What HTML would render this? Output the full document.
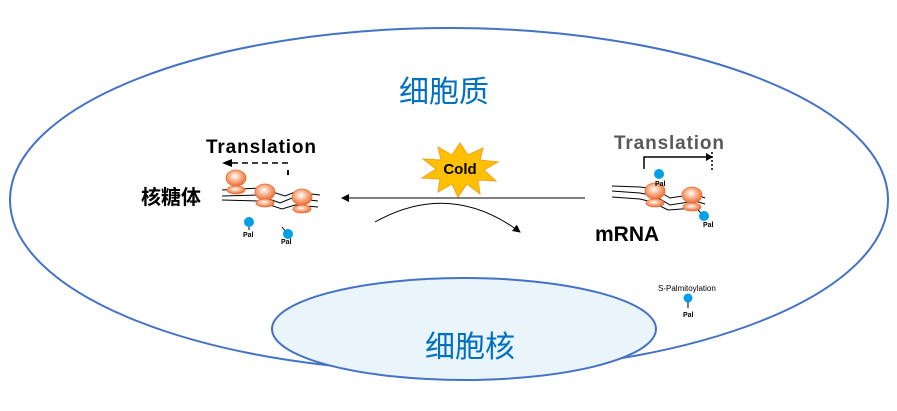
<!DOCTYPE html>
<html><head><meta charset="utf-8"><style>
body{margin:0;background:#fff;width:897px;height:406px;overflow:hidden}
text{font-family:"Liberation Sans","Noto Sans CJK SC",sans-serif}
</style></head><body>
<svg width="897" height="406" viewBox="0 0 897 406" xmlns="http://www.w3.org/2000/svg">
<defs>
<radialGradient id="rb" cx="0.45" cy="0.4" r="0.6">
<stop offset="0" stop-color="#fff"/><stop offset="0.5" stop-color="#f8b08a"/><stop offset="1" stop-color="#ec6d34"/>
</radialGradient>
<marker id="ah" markerWidth="8" markerHeight="8" refX="7" refY="4" orient="auto"><path d="M0,0 L8,4 L0,8 z" fill="#000"/></marker>
</defs>
<ellipse cx="449" cy="200" rx="439" ry="172" fill="#fff" stroke="#4472c4" stroke-width="2"/>
<ellipse cx="464" cy="329" rx="192" ry="51" fill="#eaf4fb" stroke="#4472c4" stroke-width="2"/>
<text x="444" y="102" font-size="30" fill="#0070c0" text-anchor="middle">细胞质</text>
<text x="470" y="357" font-size="30" fill="#0070c0" text-anchor="middle">细胞核</text>

<polygon points="460,143 468,155 483,148 480,160 498,162 484,170 496,181 478,180 480,194 467,184 458,197 452,184 438,192 440,179 422,178 436,169 423,159 441,160 438,147 452,155" fill="#ffc000" stroke="#f4a020" stroke-width="1"/>
<text x="460" y="174" font-size="15" font-weight="bold" text-anchor="middle" fill="#000">Cold</text>

<line x1="585" y1="198" x2="342" y2="198" stroke="#000" stroke-width="1" marker-end="url(#ah)"/>
<path d="M375,222 Q450,180 520,232" fill="none" stroke="#000" stroke-width="1" marker-end="url(#ah)"/>

<text x="206" y="153" font-size="19" font-weight="bold" fill="#000" textLength="110">Translation</text>
<line x1="288" y1="163" x2="228" y2="163" stroke="#000" stroke-width="1.5" stroke-dasharray="6,4"/>
<path d="M232,159 L222,163 L232,167 z" fill="#000"/>
<line x1="288" y1="170" x2="288" y2="175" stroke="#000" stroke-width="2"/>
<text x="141" y="204" font-size="20" font-weight="bold" fill="#000" font-family="Noto Sans CJK SC,sans-serif">核糖体</text>
<path d="M222,190 L260,188 L285,196 L295,192 L320,195" fill="none" stroke="#000" stroke-width="1"/>
<path d="M222,196 L258,195 L280,203 L292,198 L318,201" fill="none" stroke="#000" stroke-width="1"/>
<path d="M222,200 L258,201 L282,209 L295,205 L318,207" fill="none" stroke="#000" stroke-width="1"/>
<g stroke="#ec6d34" stroke-width="0.8">
<ellipse cx="236" cy="178" rx="10" ry="8" fill="url(#rb)"/><ellipse cx="236" cy="190" rx="9" ry="4" fill="url(#rb)"/>
<ellipse cx="265" cy="192" rx="10" ry="8" fill="url(#rb)"/><ellipse cx="265" cy="203" rx="9" ry="4" fill="url(#rb)"/>
<ellipse cx="302" cy="197" rx="10" ry="8" fill="url(#rb)"/><ellipse cx="302" cy="209" rx="9" ry="4" fill="url(#rb)"/>
</g>
<circle cx="249" cy="222" r="5" fill="#00a0e8"/><line x1="249" y1="227" x2="249" y2="230" stroke="#000"/>
<text x="243" y="237" font-size="7" font-weight="bold">Pal</text>
<line x1="282" y1="227" x2="286" y2="232" stroke="#000"/><circle cx="288" cy="234" r="5" fill="#00a0e8"/>
<text x="281" y="244" font-size="7" font-weight="bold">Pal</text>

<text x="614" y="149" font-size="19" font-weight="bold" fill="#595959" textLength="110">Translation</text>
<path d="M644,169 L644,157 L710,157" fill="none" stroke="#000" stroke-width="1.5"/>
<path d="M706,153 L713,157 L706,161 z" fill="#000"/>
<line x1="712" y1="152" x2="712" y2="172" stroke="#000" stroke-width="1.5" stroke-dasharray="2,2"/>
<path d="M612,186 L640,187 L655,189 L670,198 L695,194 L705,198" fill="none" stroke="#000" stroke-width="1"/>
<path d="M612,191 L640,193 L655,196 L670,205 L695,201 L705,204" fill="none" stroke="#000" stroke-width="1"/>
<path d="M612,197 L640,199 L652,202 L668,210 L695,208" fill="none" stroke="#000" stroke-width="1"/>
<g stroke="#ec6d34" stroke-width="0.8">
<ellipse cx="655" cy="191" rx="10" ry="8" fill="url(#rb)"/><ellipse cx="655" cy="203" rx="9" ry="4" fill="url(#rb)"/>
<ellipse cx="692" cy="195" rx="10" ry="8" fill="url(#rb)"/><ellipse cx="692" cy="207" rx="9" ry="4" fill="url(#rb)"/>
</g>
<circle cx="659" cy="174" r="5" fill="#00a0e8"/>
<text x="655" y="186" font-size="7" font-weight="bold">Pal</text>
<line x1="698" y1="210" x2="702" y2="214" stroke="#000"/><circle cx="704" cy="216" r="5" fill="#00a0e8"/>
<text x="703" y="227" font-size="7" font-weight="bold">Pal</text>
<text x="595" y="241" font-size="21" font-weight="bold" fill="#000">mRNA</text>

<text x="658" y="291" font-size="8" fill="#000">S-Palmitoylation</text>
<circle cx="688" cy="298" r="4.5" fill="#00a0e8"/><line x1="688" y1="302" x2="688" y2="308" stroke="#000"/>
<text x="683" y="317" font-size="7" font-weight="bold">Pal</text>
</svg>
</body></html>
